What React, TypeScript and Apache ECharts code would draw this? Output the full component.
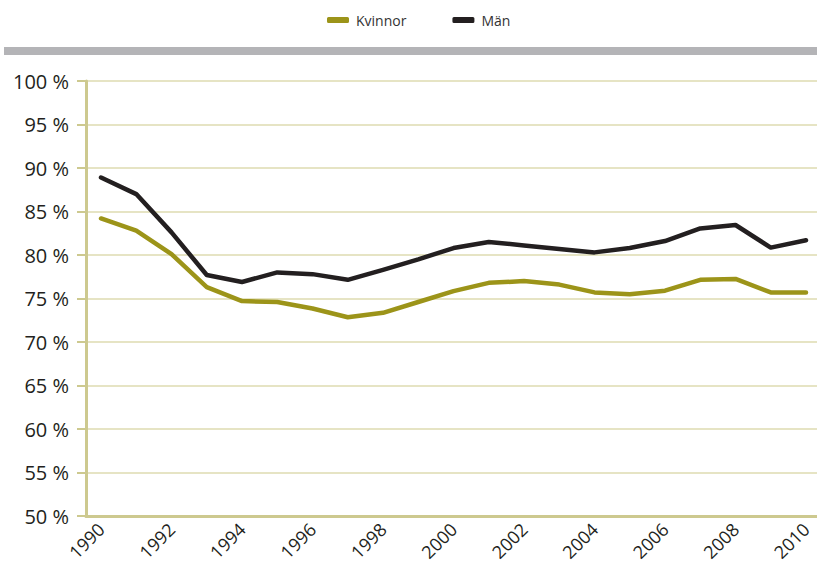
import React, { useEffect, useRef } from "react";
import * as echarts from "echarts";

const years = [1990,1991,1992,1993,1994,1995,1996,1997,1998,1999,2000,2001,2002,2003,2004,2005,2006,2007,2008,2009,2010];
const kvinnor = [84.2,82.8,80.1,76.3,74.7,74.6,73.85,72.85,73.35,74.6,75.85,76.8,77.0,76.6,75.7,75.5,75.9,77.15,77.25,75.7,75.7];
const man = [88.9,87.0,82.6,77.7,76.9,78.0,77.8,77.15,78.3,79.5,80.8,81.5,81.1,80.7,80.3,80.8,81.6,83.05,83.45,80.85,81.7];
const yearTicks = [1990,1992,1994,1996,1998,2000,2002,2004,2006,2008,2010];

export default function App() {
  const ref = useRef<HTMLDivElement>(null);
  useEffect(() => {
    const chart = echarts.init(ref.current!, null, { renderer: "svg" });
    const axisCol = "#cdc98f";
    const gridCol = "#dedbb0";
    const font = "'Open Sans', 'Noto Sans', sans-serif";
    chart.setOption({
      animation: false,
      backgroundColor: "#ffffff",
      textStyle: { fontFamily: font },
      graphic: [
        { type: "rect", shape: { x: 4, y: 47, width: 813, height: 8 }, style: { fill: "#b4b4b7" } },
      ],
      legend: {
        top: 8,
        left: 322,
        icon: "roundRect",
        itemWidth: 22,
        itemHeight: 6,
        itemGap: 46,
        textStyle: { fontSize: 14, color: "#333333", fontFamily: font, padding: [0, 0, 0, 2] },
        data: ["Kvinnor", "Män"],
      },
      grid: { left: 86, right: 0, top: 81, bottom: 51, containLabel: false },
      xAxis: {
        type: "value",
        min: 1989.574,
        max: 2010.312,
        splitLine: { show: false },
        axisLine: { show: true, lineStyle: { color: axisCol, width: 3 } },
        axisTick: { show: false },
        axisLabel: {
          customValues: yearTicks,
          rotate: 45,
          fontSize: 18,
          color: "#231f20",
          margin: 10,
          fontFamily: font,
          formatter: (v: number) => String(v),
        },
      },
      yAxis: {
        type: "value",
        min: 50,
        max: 100,
        interval: 5,
        axisLine: { show: true, lineStyle: { color: axisCol, width: 3 } },
        axisTick: { show: true, length: 9, lineStyle: { color: axisCol, width: 2 } },
        splitLine: { show: true, lineStyle: { color: gridCol, width: 1.5 } },
        axisLabel: {
          fontSize: 20,
          color: "#231f20",
          margin: 17,
          fontFamily: font,
          formatter: (v: number) => `${v} %`,
        },
      },
      series: [
        {
          name: "Kvinnor",
          type: "line",
          data: years.map((y, i) => [y, kvinnor[i]]),
          showSymbol: false,
          symbol: "none",
          lineStyle: { color: "#9c9419", width: 4.5, cap: "round", join: "round" },
          itemStyle: { color: "#9c9419" },
          z: 3,
        },
        {
          name: "Män",
          type: "line",
          data: years.map((y, i) => [y, man[i]]),
          showSymbol: false,
          symbol: "none",
          lineStyle: { color: "#231f20", width: 4.5, cap: "round", join: "round" },
          itemStyle: { color: "#231f20" },
          z: 4,
        },
      ],
    });
    return () => chart.dispose();
  }, []);
  return (
    <div
      ref={ref}
      style={{ position: "fixed", left: 0, top: 0, width: 817, height: 567 }}
    />
  );
}
